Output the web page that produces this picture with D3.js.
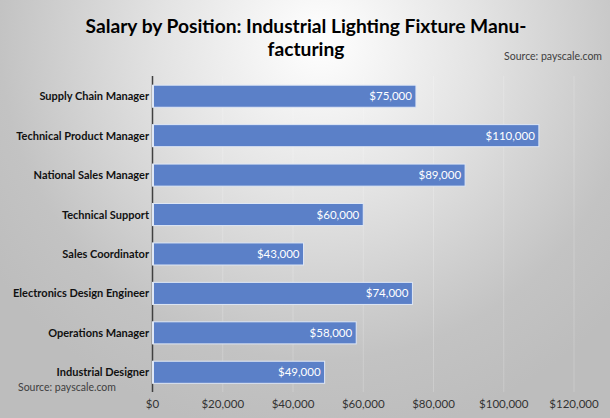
<!DOCTYPE html>
<html><head><meta charset="utf-8">
<script src="https://cdn.jsdelivr.net/npm/d3@7"></script>
<style>body{margin:0;background:#fff}svg{display:block}</style>
</head><body>
<svg id="chart" width="610" height="418"></svg>
<script>
const categories = ["Supply Chain Manager","Technical Product Manager","National Sales Manager","Technical Support","Sales Coordinator","Electronics Design Engineer","Operations Manager","Industrial Designer"];
const salaries = [75000,110000,89000,60000,43000,74000,58000,49000];
const xTicks = [0,20000,40000,60000,80000,100000,120000];
const titleLines = ["Salary by Position: Industrial Lighting Fixture Manu-","facturing"];
const sourceText = "Source: payscale.com";

const W = 610, H = 418;
const svg = d3.select("#chart");
const font = "Lato, 'Open Sans', sans-serif";

const defs = svg.append("defs");
const grad = defs.append("radialGradient").attr("id","bg")
  .attr("gradientUnits","userSpaceOnUse").attr("cx",320).attr("cy",40).attr("r",400)
  .attr("fx",320).attr("fy",40);
grad.append("stop").attr("offset","0").attr("stop-color","#ffffff");
grad.append("stop").attr("offset","0.4").attr("stop-color","#e3e3e3");
grad.append("stop").attr("offset","0.8").attr("stop-color","#c3c3c3");
grad.append("stop").attr("offset","1").attr("stop-color","#bdbdbd");
svg.append("rect").attr("width",W).attr("height",H).attr("fill","url(#bg)");

const x = d3.scaleLinear().domain([0,120000]).range([152.5,574]);
const y = d3.scaleBand().domain(categories).range([76.5,392]).paddingInner(0.44).paddingOuter(0.22);

// gridlines
svg.append("g").selectAll("line").data(xTicks.slice(1)).join("line")
  .attr("x1",d=>x(d)).attr("x2",d=>x(d)).attr("y1",76).attr("y2",392)
  .attr("stroke","#ffffff").attr("stroke-opacity",0.2).attr("stroke-width",1);

// bars
svg.append("g").selectAll("rect").data(categories).join("rect")
  .attr("x",x(0)).attr("y",(d)=>y(d))
  .attr("width",(d,i)=>x(salaries[i])-x(0)).attr("height",y.bandwidth())
  .attr("fill","#5b80c8").attr("stroke","#dfe7f5").attr("stroke-width",1);

// axis line
svg.append("line").attr("x1",x(0)).attr("x2",x(0)).attr("y1",76).attr("y2",392)
  .attr("stroke","#404040").attr("stroke-width",1.5);
svg.append("g").selectAll("rect").data(categories).join("rect")
  .attr("x",x(0)-0.5).attr("y",d=>y(d)-0.5).attr("width",2).attr("height",y.bandwidth()+1)
  .attr("fill","#dfe7f5");

// value labels
svg.append("g").selectAll("text").data(categories).join("text")
  .attr("x",(d,i)=>x(salaries[i])-4).attr("y",d=>y(d)+y.bandwidth()/2+4)
  .attr("text-anchor","end").attr("fill","#ffffff")
  .attr("font-family",font).attr("font-size",11.5)
  .text((d,i)=>d3.format("$,")(salaries[i]));

// category labels
svg.append("g").selectAll("text").data(categories).join("text")
  .attr("x",149).attr("y",d=>y(d)+y.bandwidth()/2+4)
  .attr("text-anchor","end").attr("fill","#111111").attr("font-weight","bold")
  .attr("font-family",font).attr("font-size",11)
  .text(d=>d);

// x tick labels
svg.append("g").selectAll("text").data(xTicks).join("text")
  .attr("x",d=>x(d)).attr("y",408)
  .attr("text-anchor","middle").attr("fill","#333333")
  .attr("font-family",font).attr("font-size",11.5)
  .text(d=>d3.format("$,")(d));

// title
svg.append("g").selectAll("text").data(titleLines).join("text")
  .attr("x",306).attr("y",(d,i)=>33+i*23)
  .attr("text-anchor","middle").attr("fill","#000000").attr("font-weight","bold")
  .attr("font-family",font).attr("font-size",19.2)
  .text(d=>d);

// sources
svg.append("text").attr("x",602).attr("y",60).attr("text-anchor","end")
  .attr("fill","#404040").attr("font-family",font).attr("font-size",10.5).text(sourceText);
svg.append("text").attr("x",18).attr("y",391)
  .attr("fill","#404040").attr("font-family",font).attr("font-size",10.5).text(sourceText);
</script>
</body></html>
